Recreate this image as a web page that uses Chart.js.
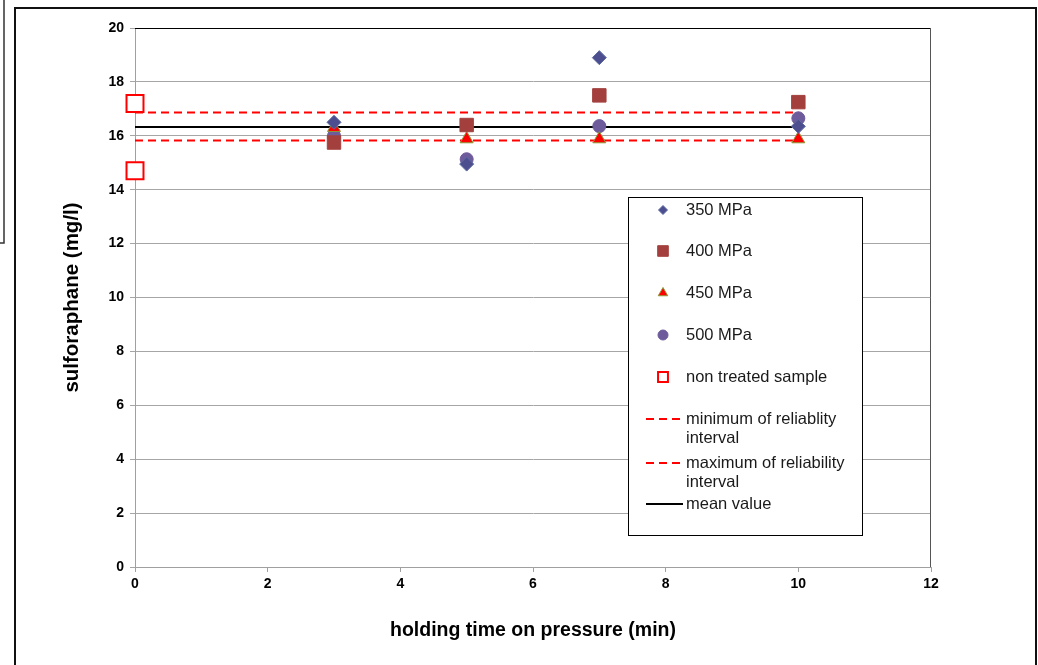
<!DOCTYPE html>
<html lang="en">
<head>
    <meta charset="UTF-8">
    <title>Sulforaphane vs holding time</title>
    <script src="https://cdn.jsdelivr.net/npm/chart.js"></script>
    <style>
        html, body { margin: 0; padding: 0; background: #fff; }
        #wrap { width: 1038px; height: 665px; }
    </style>
</head>
<body>
<div id="wrap"><canvas id="sulfChart" width="1038" height="665"></canvas></div>
<script>
    const holdTimes = [3, 5, 7, 10];
    const mpa350 = [16.5, 14.95, 18.9, 16.35];
    const mpa400 = [15.75, 16.4, 17.5, 17.25];
    const mpa450 = [16.3, 15.88, 15.88, 15.88];
    const mpa500 = [16.0, 15.13, 16.36, 16.65];
    const untreatedTime = [0, 0];
    const untreated = [17.2, 14.7];
    const lineSpan = [0, 10];
    const minReliability = 15.83;
    const maxReliability = 16.86;
    const meanValue = 16.33;
    const seriesNames = [
        '350 MPa', '400 MPa', '450 MPa', '500 MPa', 'non treated sample',
        ['minimum of reliablity', 'interval'],
        ['maximum of reliability', 'interval'],
        'mean value'
    ];
    const yTicks = [0, 2, 4, 6, 8, 10, 12, 14, 16, 18, 20];
    const xTicks = [0, 2, 4, 6, 8, 10, 12];

    const pts = (xs, ys) => xs.map((x, i) => ({ x: x, y: ys[i] }));
    const flat = (v) => lineSpan.map(x => ({ x: x, y: v }));

    const datasets = [
        { data: pts(holdTimes, mpa350), pointStyle: 'rectRot', pointRadius: 7,
          backgroundColor: '#4d4e8f', borderColor: '#5a6aa0', borderWidth: 1 },
        { data: pts(holdTimes, mpa400), pointStyle: 'rect', pointRadius: 9.5,
          backgroundColor: '#a3403e', borderColor: '#a3403e', borderWidth: 1 },
        { data: pts(holdTimes, mpa450), pointStyle: 'triangle', pointRadius: 7.5,
          backgroundColor: '#ff0000', borderColor: '#8a9a3a', borderWidth: 1 },
        { data: pts(holdTimes, mpa500), pointStyle: 'circle', pointRadius: 6.5,
          backgroundColor: '#6e5b9c', borderColor: '#6e5b9c', borderWidth: 1 },
        { data: pts(untreatedTime, untreated), pointStyle: 'rect', pointRadius: 12, clip: false,
          backgroundColor: '#ffffff', borderColor: '#ff0000', borderWidth: 2 },
        { data: flat(minReliability), showLine: true, pointRadius: 0,
          borderColor: '#ff0000', borderWidth: 2, borderDash: [8, 5] },
        { data: flat(maxReliability), showLine: true, pointRadius: 0,
          borderColor: '#ff0000', borderWidth: 2, borderDash: [8, 5] },
        { data: flat(meanValue), showLine: true, pointRadius: 0,
          borderColor: '#000000', borderWidth: 2 }
    ];
    datasets.forEach((d, i) => { d.label = seriesNames[i]; d.pointHoverRadius = d.pointRadius; });

    // frame around the whole figure + top/right edges of the plot area
    const framePlugin = {
        id: 'frame',
        beforeDraw(chart) {
            const ctx = chart.ctx;
            ctx.save();
            ctx.fillStyle = '#fff';
            ctx.fillRect(0, 0, chart.width, chart.height);
            ctx.strokeStyle = '#111';
            ctx.lineWidth = 2;
            ctx.beginPath();
            ctx.moveTo(15, 665); ctx.lineTo(15, 8); ctx.lineTo(1036, 8); ctx.lineTo(1036, 665);
            ctx.stroke();
            ctx.lineWidth = 1.5;
            ctx.strokeStyle = '#333';
            ctx.beginPath();
            ctx.moveTo(4, 0); ctx.lineTo(4, 243); ctx.lineTo(0, 243);
            ctx.stroke();
            ctx.restore();
        },
        beforeDatasetsDraw(chart) {
            const a = chart.chartArea, ctx = chart.ctx;
            ctx.save();
            ctx.lineWidth = 1;
            ctx.strokeStyle = '#000';
            ctx.beginPath();
            ctx.moveTo(a.left, a.top + 0.5); ctx.lineTo(a.right, a.top + 0.5);
            ctx.stroke();
            ctx.strokeStyle = '#555';
            ctx.beginPath();
            ctx.moveTo(a.right - 0.5, a.top); ctx.lineTo(a.right - 0.5, a.bottom);
            ctx.stroke();
            ctx.restore();
        }
    };

    // boxed legend placed inside the plot area, like the original
    const boxLegend = {
        id: 'boxLegend',
        afterDraw(chart) {
            const ctx = chart.ctx;
            const box = { x: 628, y: 197, w: 234, h: 338 };
            const rows = [210, 251, 293, 335, 377, 419, 463, 504];
            const markerR = [4.5, 7.5, 5.5, 5, 7];
            ctx.save();
            ctx.fillStyle = '#fff';
            ctx.fillRect(box.x, box.y, box.w, box.h);
            ctx.strokeStyle = '#000';
            ctx.lineWidth = 1;
            ctx.strokeRect(box.x + 0.5, box.y + 0.5, box.w, box.h);
            ctx.font = '16.5px "Liberation Sans", Arial, sans-serif';
            ctx.textBaseline = 'middle';
            chart.data.datasets.forEach((d, i) => {
                const y = rows[i];
                if (d.showLine) {
                    ctx.strokeStyle = d.borderColor;
                    ctx.lineWidth = d.borderWidth;
                    ctx.setLineDash(d.borderDash || []);
                    ctx.beginPath();
                    ctx.moveTo(646, y); ctx.lineTo(683, y);
                    ctx.stroke();
                    ctx.setLineDash([]);
                } else {
                    ctx.fillStyle = d.backgroundColor;
                    ctx.strokeStyle = d.borderColor;
                    ctx.lineWidth = d.borderWidth;
                    Chart.helpers.drawPoint(ctx, {
                        pointStyle: d.pointStyle, radius: markerR[i], rotation: 0,
                        borderWidth: d.borderWidth
                    }, 663, y);
                }
                ctx.fillStyle = '#1a1a1a';
                const lines = Array.isArray(d.label) ? d.label : [d.label];
                lines.forEach((t, k) => ctx.fillText(t, 686, y + k * 19));
            });
            ctx.restore();
        }
    };

    const tickFont = { family: '"Liberation Sans", Arial, sans-serif', size: 14, weight: 'bold' };

    new Chart(document.getElementById('sulfChart'), {
        type: 'scatter',
        data: { datasets: datasets },
        plugins: [framePlugin, boxLegend],
        options: {
            responsive: false,
            animation: false,
            events: [],
            layout: { padding: { top: 28, right: 107, left: 0, bottom: 0 } },
            plugins: { legend: { display: false }, tooltip: { enabled: false } },
            scales: {
                x: {
                    type: 'linear', min: 0, max: 12,
                    afterBuildTicks: s => { s.ticks = xTicks.map(v => ({ value: v })); },
                    afterFit: s => { s.height = 98; },
                    grid: { drawOnChartArea: false, color: '#a0a0a0', tickLength: 5 },
                    border: { color: '#a0a0a0' },
                    ticks: { font: tickFont, color: '#000', padding: 4, maxRotation: 0 },
                    title: { display: true, text: 'holding time on pressure (min)', color: '#000',
                             font: { family: '"Liberation Sans", Arial, sans-serif', size: 19.5, weight: 'bold' },
                             padding: { top: 0, bottom: 23 } }
                },
                y: {
                    type: 'linear', min: 0, max: 20,
                    afterBuildTicks: s => { s.ticks = yTicks.map(v => ({ value: v })); },
                    afterFit: s => { s.width = 135; },
                    grid: { color: '#a6a6a6', tickLength: 5 },
                    border: { color: '#a0a0a0' },
                    ticks: { font: tickFont, color: '#000', padding: 6 },
                    title: { display: true, text: 'sulforaphane (mg/l)', color: '#000',
                             font: { family: '"Liberation Sans", Arial, sans-serif', size: 20.5, weight: 'bold' },
                             padding: { top: 60, bottom: 0 } }
                }
            }
        }
    });
</script>
</body>
</html>
